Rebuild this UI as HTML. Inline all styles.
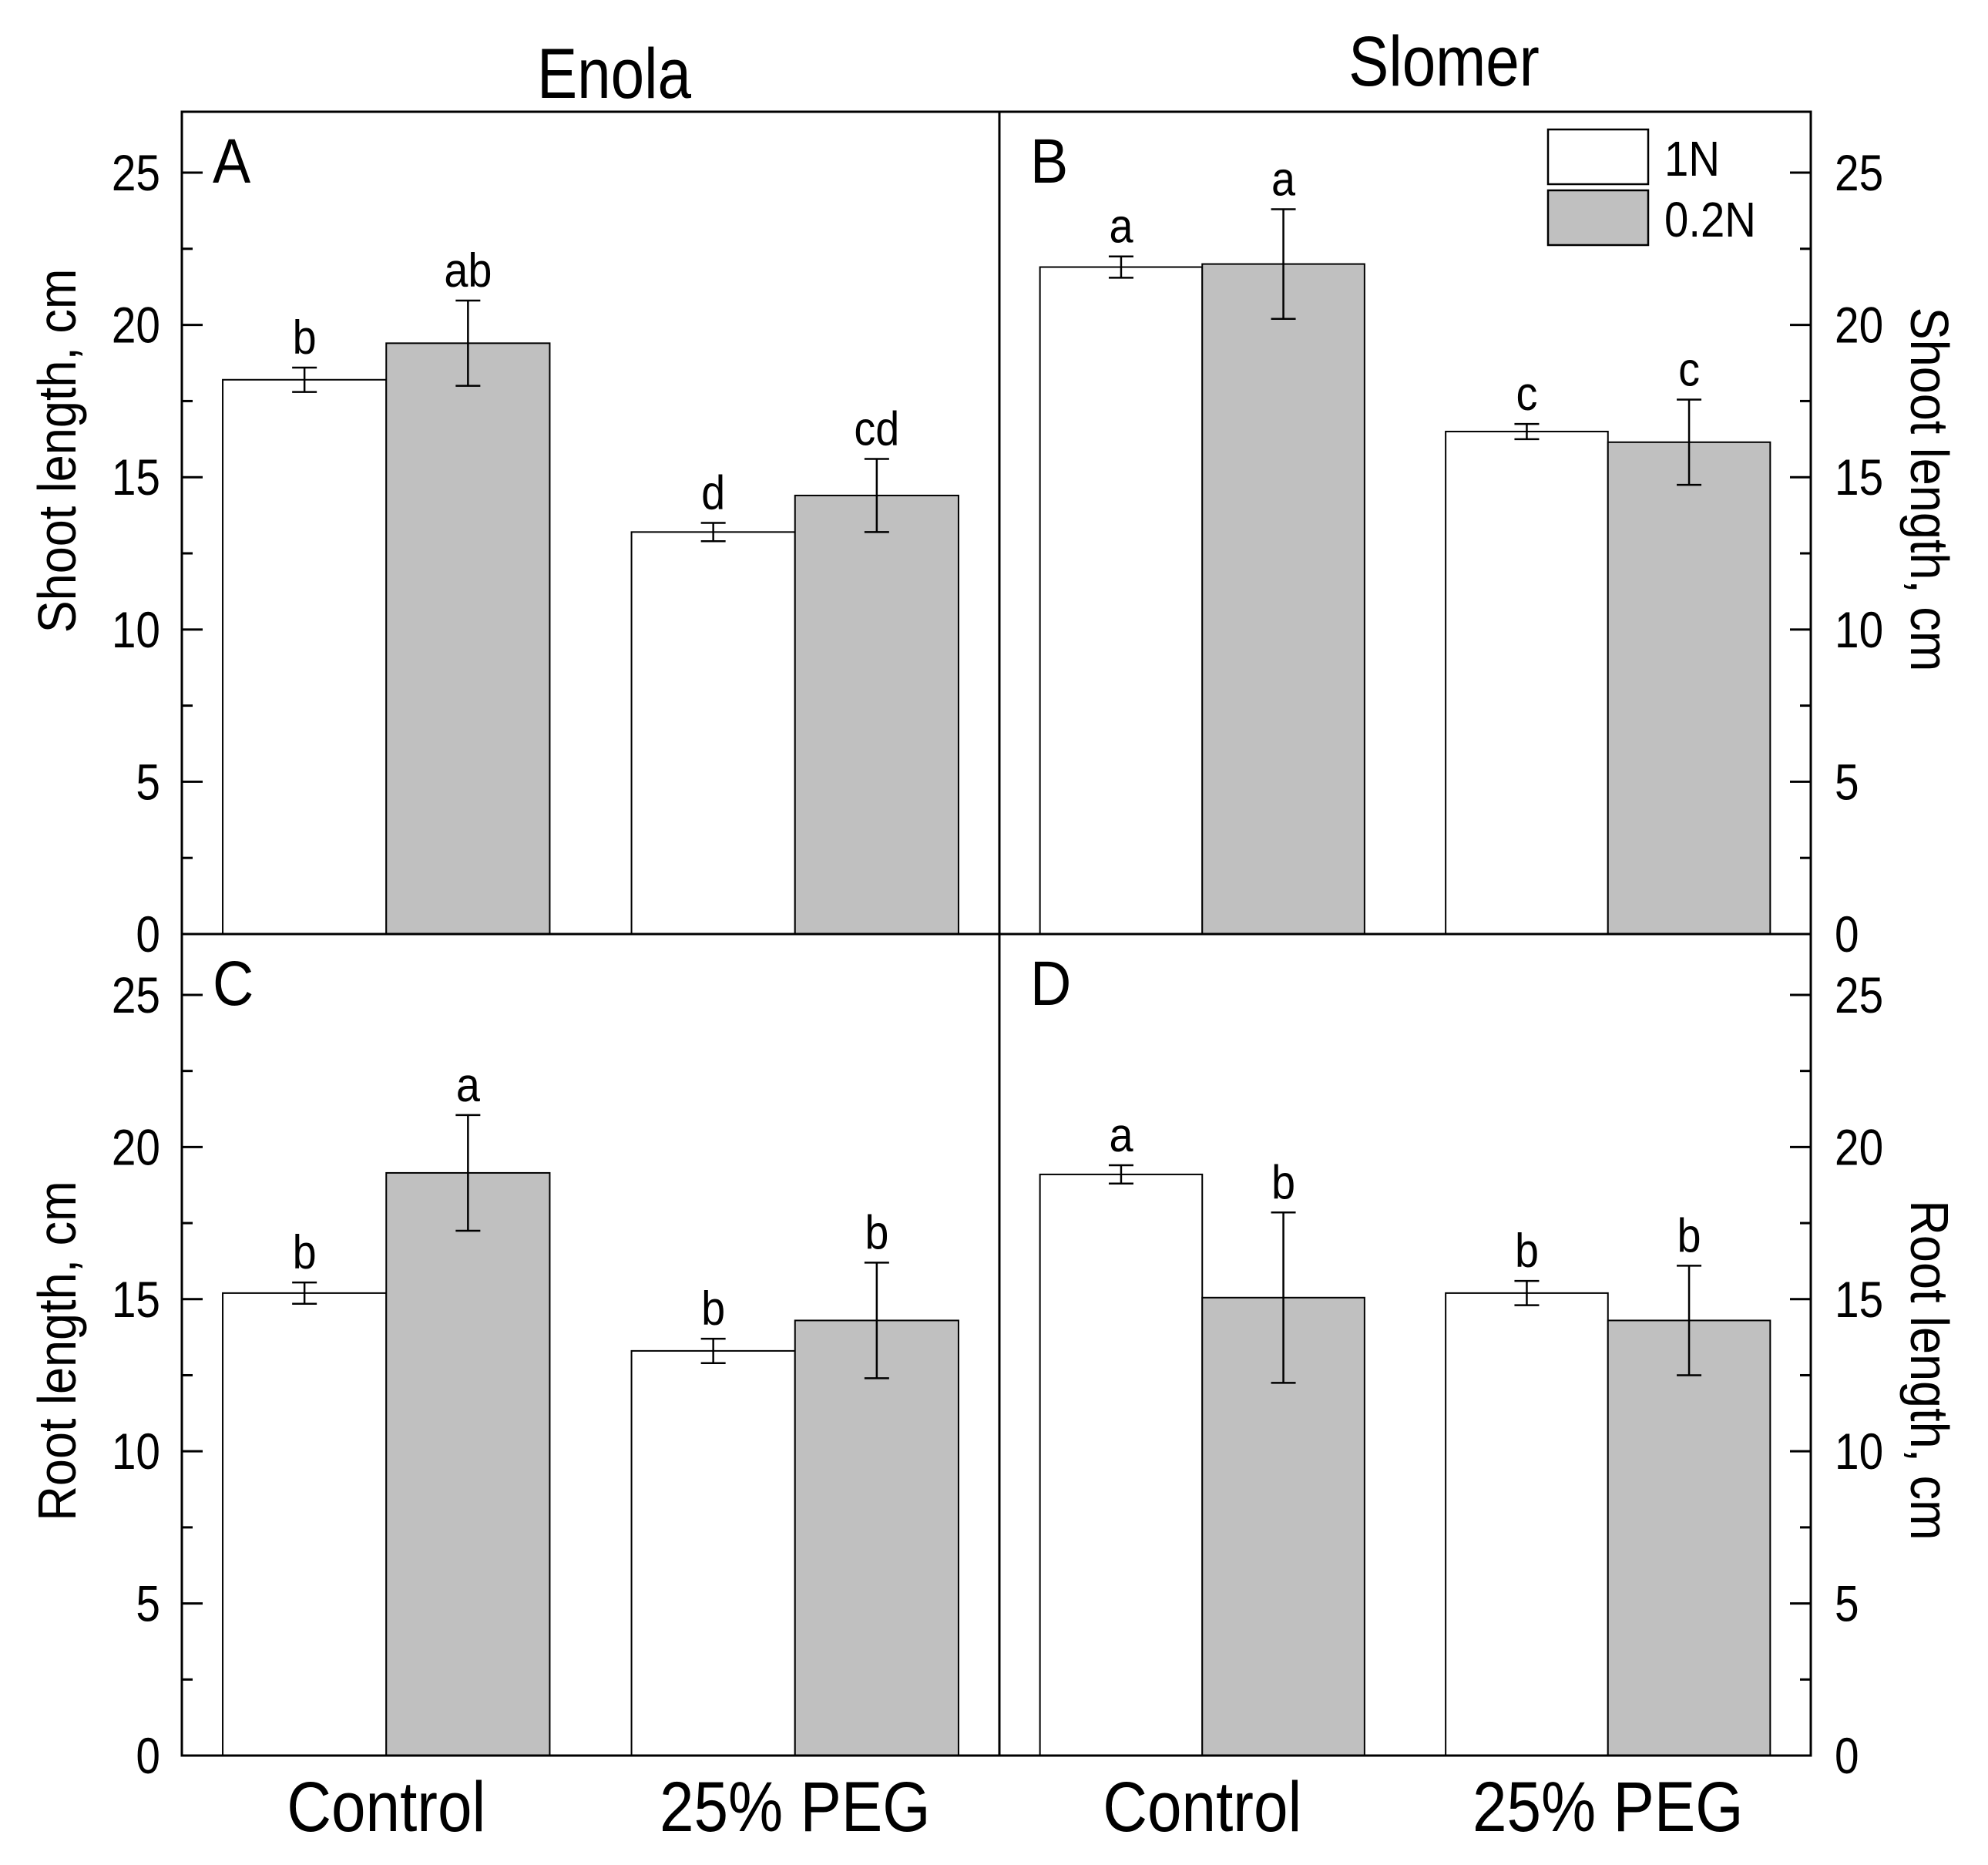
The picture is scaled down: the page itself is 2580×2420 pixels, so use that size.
<!DOCTYPE html>
<html><head><meta charset="utf-8"><style>
html,body{margin:0;padding:0;background:#fff;}
svg{display:block;font-family:"Liberation Sans",Arial,sans-serif;}
</style></head><body>
<svg id="chart" width="2580" height="2420" viewBox="0 0 2580 2420">
<g id="g"></g>
</svg>
<script>
const categories = ["Control", "25% PEG"];
const panelNames = ["A", "B", "C", "D"];
const series = ["1N", "0.2N"];
const valsA_1N = [18.2, 13.2], errA_1N = [0.4, 0.3], letA_1N = ["b", "d"];
const valsA_02N = [19.4, 14.4], errA_02N = [1.4, 1.2], letA_02N = ["ab", "cd"];
const valsB_1N = [21.9, 16.5], errB_1N = [0.35, 0.25], letB_1N = ["a", "c"];
const valsB_02N = [22.0, 16.15], errB_02N = [1.8, 1.4], letB_02N = ["a", "c"];
const valsC_1N = [15.2, 13.3], errC_1N = [0.35, 0.4], letC_1N = ["b", "b"];
const valsC_02N = [19.15, 14.3], errC_02N = [1.9, 1.9], letC_02N = ["a", "b"];
const valsD_1N = [19.1, 15.2], errD_1N = [0.3, 0.4], letD_1N = ["a", "b"];
const valsD_02N = [15.05, 14.3], errD_02N = [2.8, 1.8], letD_02N = ["b", "b"];
const yTicks = [0, 5, 10, 15, 20, 25];
const yMax = 27;

const NS = "http://www.w3.org/2000/svg";
const g = document.getElementById("g");
function el(tag, attrs, parent, text) {
  const e = document.createElementNS(NS, tag);
  for (const k in attrs) e.setAttribute(k, attrs[k]);
  if (text !== undefined) e.textContent = text;
  (parent || g).appendChild(e);
  return e;
}
function T(parent, x, y, size, sx, anchor, s, rot) {
  const t = el("text", {x: 0, y: 0, "font-size": size, "text-anchor": anchor,
    transform: `translate(${x},${y}) rotate(${rot || 0}) scale(${sx},1)`}, parent, s);
  return t;
}
const X0 = 236, XM = 1297, X1 = 2350, Y0 = 145, YM = 1212, Y1 = 2278;
const panels = [
  {name:"A", x0:X0, x1:XM, y0:Y0, y1:YM, d1:valsA_1N, e1:errA_1N, l1:letA_1N, d2:valsA_02N, e2:errA_02N, l2:letA_02N},
  {name:"B", x0:XM, x1:X1, y0:Y0, y1:YM, d1:valsB_1N, e1:errB_1N, l1:letB_1N, d2:valsB_02N, e2:errB_02N, l2:letB_02N},
  {name:"C", x0:X0, x1:XM, y0:YM, y1:Y1, d1:valsC_1N, e1:errC_1N, l1:letC_1N, d2:valsC_02N, e2:errC_02N, l2:letC_02N},
  {name:"D", x0:XM, x1:X1, y0:YM, y1:Y1, d1:valsD_1N, e1:errD_1N, l1:letD_1N, d2:valsD_02N, e2:errD_02N, l2:letD_02N}
];
panels.forEach((p, pi) => {
  const pg = el("g", {});
  
  
  const W = p.x1 - p.x0;
  const yS = v => p.y1 - v / yMax * (p.y1 - p.y0);
  const xC = i => p.x0 + W * (0.25 + 0.5 * i);
  const bw = W * 0.2;
  [[p.d1, p.e1, p.l1, "#ffffff", -1], [p.d2, p.e2, p.l2, "#c0c0c0", 0]].forEach((s, si) => {
    s[0].forEach((v, i) => {
      const bx = xC(i) + s[4] * bw;
      const r = el("rect", {x: bx, y: yS(v), width: bw, height: yS(0) - yS(v), fill: s[3], stroke: "#000", "stroke-width": 2}, pg);
      
      
      const cx = bx + bw / 2, hi = yS(v + s[1][i]), lo = yS(v - s[1][i]);
      const eb = el("path", {d: `M${cx},${hi}V${lo}M${cx-16},${hi}H${cx+16}M${cx-16},${lo}H${cx+16}`, stroke: "#000", "stroke-width": 2.5, fill: "none"}, pg);
      
      
      const t = T(pg, cx, hi - 18, 62, 0.9, "middle", s[2][i]);
      
      
    });
  });
  const lt = T(pg, p.x0 + 40, p.y0 + 92, 82, 0.9, "start", p.name);
  
  
  const left = (pi % 2 === 0);
  const ax = left ? p.x0 : p.x1, dir = left ? 1 : -1;
  for (let v = 0; v <= 25; v += 2.5) {
    const major = v % 5 === 0;
    el("line", {x1: ax, x2: ax + dir * (major ? 27 : 14), y1: yS(v), y2: yS(v), stroke: "#000", "stroke-width": 3}, pg);
  }
  yTicks.forEach(v => {
    const t = T(pg, left ? ax - 28 : ax + 31, yS(v) + 23, 66, 0.86, left ? "end" : "start", v);
    
    
  });
});
el("rect", {x: X0, y: Y0, width: X1 - X0, height: Y1 - Y0, fill: "none", stroke: "#000", "stroke-width": 3});
el("line", {x1: XM, x2: XM, y1: Y0, y2: Y1, stroke: "#000", "stroke-width": 3});
el("line", {x1: X0, x2: X1, y1: YM, y2: YM, stroke: "#000", "stroke-width": 3});
function txt(x, y, size, sx, s, name, rot) {
  const t = T(g, x, y, size, sx, "middle", s, rot);
  
  
  return t;
}
txt(797, 127, 92, 0.85, "Enola", "column-title-enola");
txt(1874, 111, 92, 0.85, "Slomer", "column-title-slomer");
txt(98, 585, 70, 0.9, "Shoot length, cm", "y-axis-title-a", -90);
txt(98, 1753, 70, 0.9, "Root length, cm", "y-axis-title-c", -90);
txt(2480, 635, 70, 0.9, "Shoot length, cm", "y-axis-title-b", 90);
txt(2480, 1778, 70, 0.9, "Root length, cm", "y-axis-title-d", 90);
[[X0, XM], [XM, X1]].forEach(([a, b]) => {
  categories.forEach((c, i) => {
    txt(a + (b - a) * (0.25 + 0.5 * i), 2376, 92, 0.87, c, "x-category-label");
  });
});
const lg = el("g", {});


[["#ffffff", 168], ["#c0c0c0", 247]].forEach((s, i) => {
  el("rect", {x: 2009, y: s[1], width: 130, height: 71, fill: s[0], stroke: "#000", "stroke-width": 2.5}, lg);
  const t = T(lg, 2160, s[1] + 60, 64, 0.88, "start", series[i]);
  
  
});
</script>
</body></html>
